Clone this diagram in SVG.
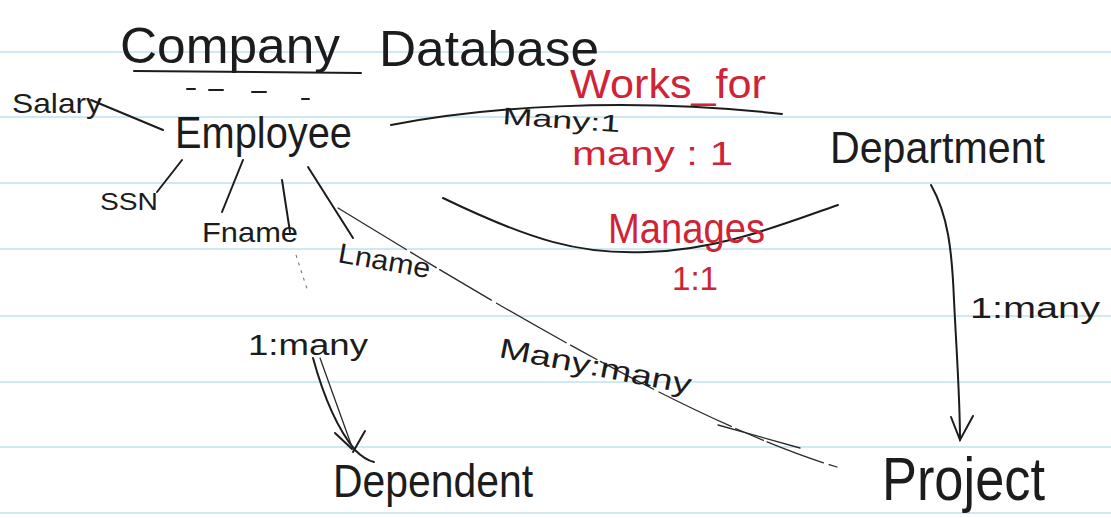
<svg xmlns="http://www.w3.org/2000/svg" width="1111" height="518" viewBox="0 0 1111 518">
<style>
.rule{stroke:#bfe2ee;stroke-width:1.6}
text{font-family:"Liberation Sans","DejaVu Sans",sans-serif;fill:#1c1c1c}
.red{fill:#cf2436}
.ink{fill:none;stroke:#1c1c1c;stroke-width:2;stroke-linecap:round}
.thin{fill:none;stroke:#2a2a2a;stroke-width:1.3;stroke-linecap:round}
.faint{fill:none;stroke:#777;stroke-width:1.1;stroke-dasharray:3 5}
</style>
<rect width="1111" height="518" fill="#ffffff"/>
<g id="paper-rules">
<line class="rule" x1="0" y1="52" x2="1111" y2="52"/>
<line class="rule" x1="0" y1="117" x2="1111" y2="117"/>
<line class="rule" x1="0" y1="183" x2="1111" y2="183"/>
<line class="rule" x1="0" y1="249" x2="1111" y2="249"/>
<line class="rule" x1="0" y1="316" x2="1111" y2="316"/>
<line class="rule" x1="0" y1="382" x2="1111" y2="382"/>
<line class="rule" x1="0" y1="447" x2="1111" y2="447"/>
<line class="rule" x1="0" y1="513" x2="1111" y2="513"/>
</g>
<g id="title">
<text x="120" y="63" font-size="50" textLength="220" lengthAdjust="spacingAndGlyphs">Company</text>
<text x="379" y="66" font-size="50" textLength="220" lengthAdjust="spacingAndGlyphs">Database</text>
<path class="ink" d="M134,71 L361,73"/>
<path class="ink" d="M187,89 L195,89 M209,90 L223,90 M252,92 L266,92 M302,99 L309,99"/>
</g>
<g id="connectors">
<path class="ink" d="M91,100 L163,130"/>
<path class="ink" d="M157,192 L182,160"/>
<path class="ink" d="M222,212 L243,160"/>
<path class="ink" d="M282,180 L290,232"/>
<path class="faint" d="M296,255 L308,292"/>
<path class="ink" d="M308,167 L353,238"/>
<path class="ink" d="M391,125 C480,108 620,96 782,114"/>
<path class="ink" d="M443,198 C530,240 580,255 647,252 C720,250 780,225 838,205"/>
<path class="thin" d="M338,208 C440,270 680,420 837,467" stroke-dasharray="80 5 30 4 60 6"/>
<path class="thin" d="M718,425 L800,448"/>
<path class="ink" d="M313,358 Q330,420 355,450 Q365,460 374,462"/>
<path class="thin" d="M320,358 L352,447"/>
<path class="ink" d="M335,433 L352,449 M365,431 L353,452"/>
<path class="ink" d="M931,185 C948,215 952,250 954,300 C957,360 960,400 960,440"/>
<path class="ink" d="M951,417 L960,440 L973,416"/>
</g>
<g id="employee">
<text x="175" y="148" font-size="44" textLength="177" lengthAdjust="spacingAndGlyphs">Employee</text>
</g>
<g id="salary">
<text x="12" y="113" font-size="28" textLength="90" lengthAdjust="spacingAndGlyphs">Salary</text>
</g>
<g id="ssn">
<text x="100" y="210" font-size="24" textLength="58" lengthAdjust="spacingAndGlyphs">SSN</text>
</g>
<g id="fname">
<text x="202" y="242" font-size="28" textLength="96" lengthAdjust="spacingAndGlyphs">Fname</text>
</g>
<g id="lname">
<text x="337" y="262" font-size="28" textLength="93" lengthAdjust="spacingAndGlyphs" transform="rotate(10 337 262)">Lname</text>
</g>
<g id="works-for">
<text class="red" x="570" y="98" font-size="40" textLength="196" lengthAdjust="spacingAndGlyphs">Works_for</text>
<text x="502" y="124" font-size="24" textLength="118" lengthAdjust="spacingAndGlyphs" transform="rotate(4 502 124)">Many:1</text>
<text class="red" x="572" y="165" font-size="34" textLength="161" lengthAdjust="spacingAndGlyphs">many : 1</text>
</g>
<g id="department">
<text x="830" y="163" font-size="44" textLength="215" lengthAdjust="spacingAndGlyphs">Department</text>
</g>
<g id="manages">
<text class="red" x="608" y="243" font-size="42" textLength="157" lengthAdjust="spacingAndGlyphs">Manages</text>
<text class="red" x="672" y="290" font-size="34" textLength="46" lengthAdjust="spacingAndGlyphs">1:1</text>
</g>
<g id="dept-project-label">
<text x="970" y="318" font-size="30" textLength="130" lengthAdjust="spacingAndGlyphs">1:many</text>
</g>
<g id="emp-dependent-label">
<text x="248" y="355" font-size="30" textLength="120" lengthAdjust="spacingAndGlyphs">1:many</text>
</g>
<g id="emp-project-label">
<text x="498" y="357" font-size="28" textLength="195" lengthAdjust="spacingAndGlyphs" transform="rotate(11 498 357)">Many:many</text>
</g>
<g id="dependent">
<text x="333" y="497" font-size="46" textLength="200" lengthAdjust="spacingAndGlyphs">Dependent</text>
</g>
<g id="project">
<text x="882" y="500" font-size="62" textLength="163" lengthAdjust="spacingAndGlyphs">Project</text>
</g>
</svg>
